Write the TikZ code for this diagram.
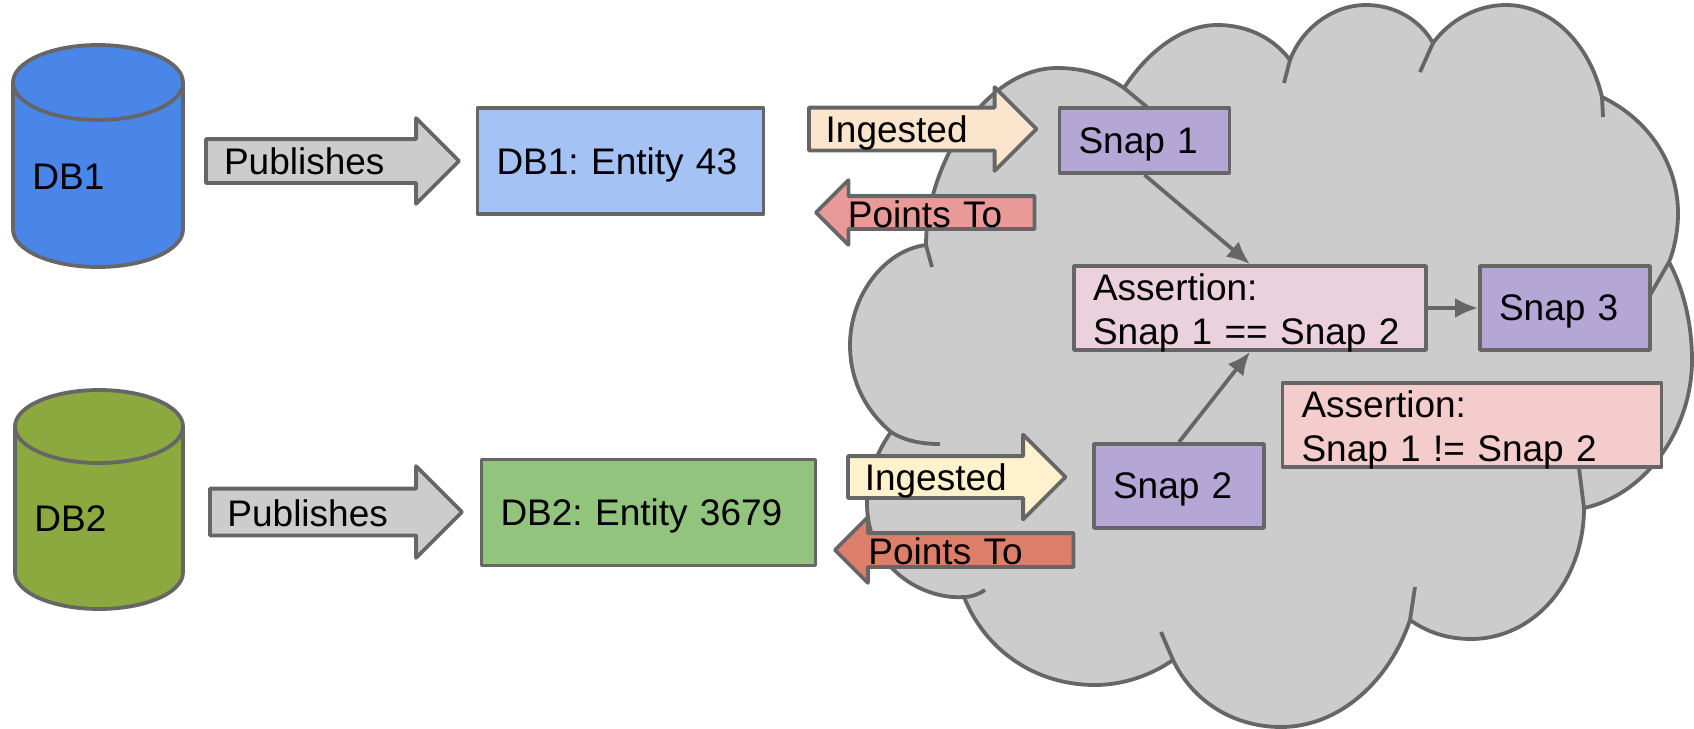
\documentclass[tikz,border=0pt]{standalone}
\usepackage{fontspec}
\setmainfont{Liberation Sans}
\usetikzlibrary{arrows.meta,shapes.arrows}

\definecolor{linegrey}{HTML}{666666}
\definecolor{cloudgrey}{HTML}{CCCCCC}
\definecolor{dbblue}{HTML}{4A86E8}
\definecolor{dbgreen}{HTML}{8BA93F}
\definecolor{entityblue}{HTML}{A4C2F4}
\definecolor{entitygreen}{HTML}{93C47D}
\definecolor{snappurple}{HTML}{B4A7D6}
\definecolor{assertpink}{HTML}{EAD1DC}
\definecolor{assertred}{HTML}{F4CCCC}
\definecolor{ingestpeach}{HTML}{FCE5CD}
\definecolor{ingestyellow}{HTML}{FFF2CC}
\definecolor{pointsrose}{HTML}{EA9999}
\definecolor{pointsbrick}{HTML}{DD7E6B}

\tikzset{
	every node/.style={font=\frenchspacing\fontsize{18.5}{22}\selectfont},
	outline/.style={draw=linegrey, line width=1.9pt, line join=round},
	box/.style={outline, rectangle, inner xsep=9.5pt, inner ysep=0pt, align=left, text depth=-0.5pt},
	snapbox/.style={box, fill=snappurple, text width=66pt, minimum height=42pt},
	assertbox/.style={box, text depth=20.5pt, minimum height=42pt},
	fatarrow/.style={outline, single arrow, inner sep=0pt, outer sep=0pt, align=left, anchor=tip},
	onedb/.style={x radius=42.5pt, y radius=18.75pt},
	twodb/.style={x radius=42pt, y radius=18.25pt},
	link/.style={draw=linegrey, line width=1.9pt, -{Latex[length=11.5pt,width=10pt]}}
}

\begin{document}
\begin{tikzpicture}[x=.5pt,y=-.5pt]
	\useasboundingbox (0,0) rectangle (1694,729);

	% cloud
	\draw[outline, fill=cloudgrey] (926,245)
		.. controls (926,165) and (985,68) .. (1057,68)
		.. controls (1085,68) and (1107,76) .. (1124,88)
		.. controls (1150,48) and (1185,25) .. (1217,25)
		.. controls (1250,25) and (1275,40) .. (1290,60)
		.. controls (1302,28) and (1333,5) .. (1366,5)
		.. controls (1395,5) and (1420,20) .. (1433,43)
		.. controls (1450,20) and (1477,5) .. (1506,5)
		.. controls (1552,5) and (1590,45) .. (1602,97)
		.. controls (1650,120) and (1678,165) .. (1678,213)
		.. controls (1678,230) and (1675,247) .. (1669,262)
		.. controls (1684,290) and (1692,325) .. (1692,360)
		.. controls (1692,430) and (1645,495) .. (1584,508)
		.. controls (1584,580) and (1535,639) .. (1471,639)
		.. controls (1447,639) and (1427,632) .. (1410,620)
		.. controls (1390,680) and (1340,727) .. (1281,727)
		.. controls (1232,727) and (1192,700) .. (1173,660)
		.. controls (1150,676) and (1122,685) .. (1095,685)
		.. controls (1035,685) and (985,650) .. (964,597)
		.. controls (925,600) and (867,570) .. (867,503)
		.. controls (867,478) and (876,453) .. (891,432)
		.. controls (865,410) and (850,380) .. (850,345)
		.. controls (850,295) and (885,250) .. (926,245)
		-- cycle;
	\draw[outline] (926,245) -- (932,267);
	\draw[outline] (1124,88) -- (1147,107);
	\draw[outline] (1284,83) -- (1290,60);
	\draw[outline] (1420,72) -- (1433,43);
	\draw[outline] (1602,97) -- (1603,117);
	\draw[outline] (1669,262) -- (1649,297);
	\draw[outline] (1584,508) -- (1579,468);
	\draw[outline] (1415,587) -- (1410,620);
	\draw[outline] (1161,632) -- (1173,660);
	\draw[outline] (964,597) .. controls (972,597) and (979,594) .. (985,590);
	\draw[outline] (891,432) .. controls (905,441) and (922,444) .. (940,444);

	% databases
	\draw[outline, fill=dbblue] (13,82.5) -- (13,229.5) arc[start angle=180, end angle=360, onedb] -- (183,82.5) arc[start angle=0, end angle=180, onedb] -- cycle;
	\draw[outline] (13,82.5) arc[start angle=180, end angle=360, onedb];
	\draw[outline, fill=dbgreen] (15,426.5) -- (15,572.5) arc[start angle=180, end angle=360, twodb] -- (183,426.5) arc[start angle=0, end angle=180, twodb] -- cycle;
	\draw[outline] (15,426.5) arc[start angle=180, end angle=360, twodb];
	\node[anchor=west, inner sep=0pt] (db1text) at (32,177) {DB1};
	\node[anchor=west, inner sep=0pt] (db2text) at (34,519) {DB2};

	% publish arrows
	\node[fatarrow, fill=cloudgrey, single arrow head extend=10.5pt, text width=97.5pt, text height=16.5pt, text depth=3.5pt, minimum height=126.5pt] (pub1) at (459,161) {Publishes};
	\node[fatarrow, fill=cloudgrey, single arrow head extend=11.25pt, text width=96.85pt, text height=18pt, text depth=3.5pt, minimum height=126pt] (pub2) at (462,512) {Publishes};

	% entities
	\node[box, fill=entityblue, text width=124pt, minimum height=53pt] (ent1) at (620.5,161) {DB1: Entity 43};
	\node[box, fill=entitygreen, text width=148pt, minimum height=53pt] (ent2) at (648.5,512.5) {DB2: Entity 3679};

	% ingest and point arrows
	\node[fatarrow, fill=ingestpeach, single arrow head extend=10.25pt, text width=86.4pt, text height=16.5pt, text depth=3pt, minimum height=113.75pt] (ing1) at (1036.5,129) {Ingested};
	\node[fatarrow, fill=ingestyellow, single arrow head extend=10.75pt, text width=81.5pt, text height=16pt, text depth=3pt, minimum height=108.75pt] (ing2) at (1065.5,477) {Ingested};
	\node[fatarrow, fill=pointsrose, shape border rotate=180, single arrow head extend=8pt, text width=85.5pt, text height=14.5pt, text depth=0pt, minimum height=109.25pt] (pts1) at (816,212.5) {Points To};
	\node[fatarrow, fill=pointsbrick, shape border rotate=180, single arrow head extend=8pt, text width=94.25pt, text height=14.5pt, text depth=0.5pt, minimum height=119.25pt] (pts2) at (835,550) {Points To};

	% snapshots and assertions
	\node[snapbox, minimum height=32.5pt] (snap1) at (1144.5,140.5) {Snap 1};
	\node[snapbox] (snap2) at (1179,486) {Snap 2};
	\node[snapbox] (snap3) at (1565,308) {Snap 3};
	\node[assertbox, fill=assertpink, text width=157pt] (assert1) at (1250,308) {Assertion:\\Snap 1 == Snap 2};
	\node[assertbox, fill=assertred, text width=170.5pt] (assert2) at (1472,425) {Assertion:\\Snap 1 != Snap 2};

	\draw[link] (snap1.south) -- (assert1.north);
	\draw[link] (snap2.north) -- (assert1.south);
	\draw[link] (assert1) -- (snap3);
\end{tikzpicture}
\end{document}
